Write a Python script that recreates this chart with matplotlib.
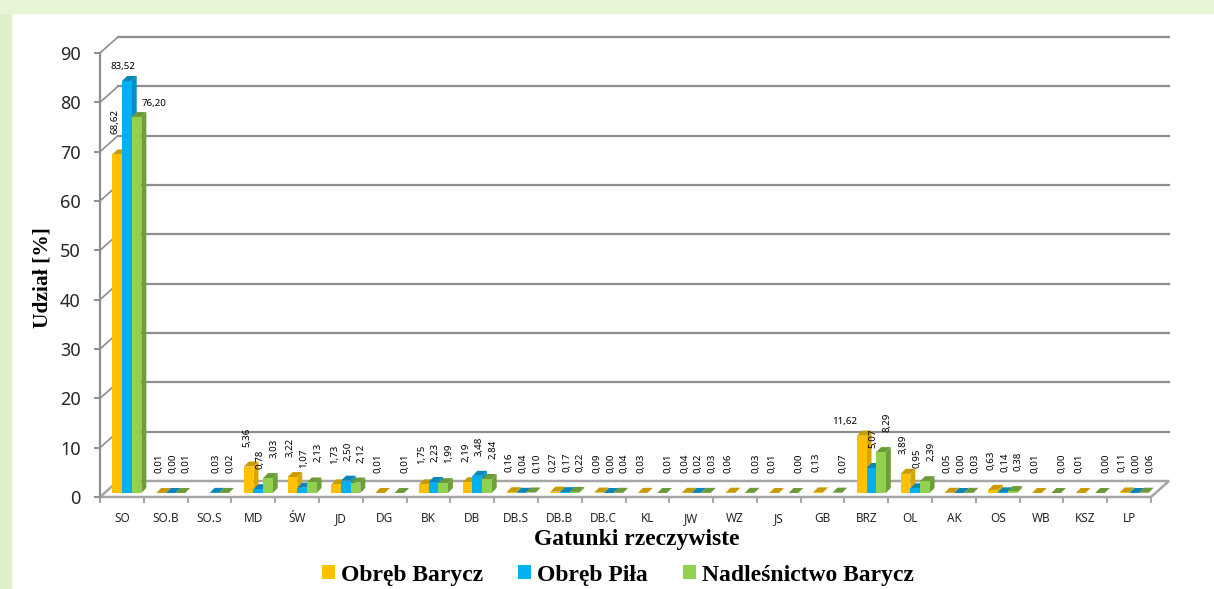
import numpy as np
import matplotlib.pyplot as plt
from matplotlib.patches import Polygon, Rectangle, Patch
from matplotlib.transforms import IdentityTransform

nan = np.nan

species = ["SO", "SO.B", "SO.S", "MD", "ŚW", "JD", "DG", "BK", "DB", "DB.S", "DB.B", "DB.C",
           "KL", "JW", "WZ", "JS", "GB", "BRZ", "OL", "AK", "OS", "WB", "KSZ", "LP"]

obreb_barycz = [68.62, 0.01, nan, 5.36, 3.22, 1.73, 0.01, 1.75, 2.19, 0.16, 0.27, 0.09,
                0.03, 0.04, 0.06, 0.01, 0.13, 11.62, 3.89, 0.05, 0.63, 0.01, 0.01, 0.11]
obreb_pila = [83.52, 0.00, 0.03, 0.78, 1.07, 2.50, nan, 2.23, 3.48, 0.04, 0.17, 0.00,
              nan, 0.02, nan, nan, nan, 5.07, 0.95, 0.00, 0.14, nan, nan, 0.00]
nadl_barycz = [76.20, 0.01, 0.02, 3.03, 2.13, 2.12, 0.01, 1.99, 2.84, 0.10, 0.22, 0.04,
               0.01, 0.03, 0.03, 0.00, 0.07, 8.29, 2.39, 0.03, 0.38, 0.00, 0.00, 0.06]

series = [obreb_barycz, obreb_pila, nadl_barycz]
labels = ["Obręb Barycz", "Obręb Piła", "Nadleśnictwo Barycz"]

# front, top, side colours
face_colors = [("#FFC000", "#C99A00", "#D9A600"),
               ("#00B0F0", "#0A86BA", "#0A8CC4"),
               ("#92D050", "#6B9A38", "#6E9E3C")]

W, H, DPI = 1214, 589, 100
fig = plt.figure(figsize=(W / DPI, H / DPI), dpi=DPI)
fig.patch.set_facecolor("white")

# light green frame (left and top)
fig.patches.append(Rectangle((0, 0), 11 / W, 1, transform=fig.transFigure,
                             color="#DDEFCB", zorder=0))
fig.patches.append(Rectangle((0, 1 - 13 / H), 1, 13 / H, transform=fig.transFigure,
                             color="#E6F4D8", zorder=0))

ax = fig.add_axes([100 / W, 92 / H, 1051 / W, 444 / H])
ax.set_xlim(-0.5, len(species) - 0.5)
ax.set_ylim(0, 90)
ax.patch.set_alpha(0)

wall_dx, wall_dy = 18, 16      # back wall offset (pixels)
bar_dx, bar_dy = 5, 4          # bar front plane offset
dep = 5                        # bar depth
bar_w = 0.22
grid_c = "#8E8E8E"

fig.canvas.draw()
T = ax.transData
I = IdentityTransform()


def px(x, y):
    return T.transform((x, y))


x0, x1 = -0.5, len(species) - 0.5

# floor
a, b = px(x0, 0), px(x1, 0)
floor = [a, b, b + (wall_dx, wall_dy), a + (wall_dx, wall_dy)]
ax.add_patch(Polygon(floor, closed=True, transform=I, facecolor="white",
                     edgecolor="#A6A6A6", lw=1.8, zorder=1, clip_on=False))

# back wall and side wall gridlines
for yv in range(10, 91, 10):
    p, q = px(x0, yv), px(x1, yv)
    ax.plot([p[0] + wall_dx, q[0] + wall_dx], [p[1] + wall_dy, q[1] + wall_dy],
            transform=I, color=grid_c, lw=1.6, zorder=1, clip_on=False)
    ax.plot([p[0], p[0] + wall_dx], [p[1], p[1] + wall_dy],
            transform=I, color=grid_c, lw=1.2, zorder=1, clip_on=False)

# 3d-ish bars
xs = np.arange(len(species))
special = {(0, 1): (1, 14), (0, 2): (22, 13), (17, 0): (-12, 14)}
for i in range(len(species)):
    for s in range(3):
        v = series[s][i]
        if np.isnan(v):
            continue
        xl = xs[i] - 1.5 * bar_w + s * bar_w
        bl = px(xl, 0) + (bar_dx, bar_dy)
        br = px(xl + bar_w, 0) + (bar_dx, bar_dy)
        tl = px(xl, v) + (bar_dx, bar_dy)
        tr = px(xl + bar_w, v) + (bar_dx, bar_dy)
        fc, tc, sc = face_colors[s]
        z = 3 + i * 0.01 + s * 0.001
        ax.add_patch(Polygon([br, tr, tr + (dep, dep), br + (dep, dep)], transform=I,
                             facecolor=sc, edgecolor="none", zorder=z, clip_on=False))
        ax.add_patch(Polygon([tl, tr, tr + (dep, dep), tl + (dep, dep)], transform=I,
                             facecolor=tc, edgecolor="none", zorder=z, clip_on=False))
        if tr[1] - br[1] > 0.5:
            ax.add_patch(Polygon([bl, br, tr, tl], transform=I,
                                 facecolor=fc, edgecolor="none", zorder=z, clip_on=False))

        # value label
        txt = f"{v:.2f}".replace(".", ",")
        cx = xl + bar_w / 2
        if (i, s) in special:
            ax.annotate(txt, (cx, v), xytext=special[(i, s)], textcoords="offset pixels",
                        ha="center", va="bottom", fontsize=7, zorder=10,
                        family="Noto Sans", annotation_clip=False)
        else:
            ax.annotate(txt, (cx, v), xytext=(3 + s * 4, 24),
                        textcoords="offset pixels", rotation=90,
                        ha="center", va="bottom", fontsize=7, zorder=10,
                        family="Noto Sans", annotation_clip=False)

# axes styling
for sp in ["top", "right", "bottom"]:
    ax.spines[sp].set_visible(False)
ax.spines["left"].set_color("#8E8E8E")
ax.spines["left"].set_linewidth(1.6)

ax.set_yticks(range(0, 91, 10))
ax.tick_params(axis="y", direction="out", length=4, width=1.4, color="#8E8E8E",
               pad=10, labelsize=13, labelcolor="#262626")
for t in ax.get_yticklabels():
    t.set_family("Noto Sans")

ax.set_xticks(xs)
ax.set_xticklabels(species, family="Noto Sans", fontsize=8.5, color="#262626")
ax.set_xticks(np.arange(-0.5, len(species)), minor=True)
ax.tick_params(axis="x", which="major", length=0, pad=11)
ax.tick_params(axis="x", which="minor", direction="out", length=4, width=1.4,
               color="#A6A6A6")

fig.text(42 / W, 1 - 278 / H, "Udział [%]", rotation=90, ha="center", va="center",
         fontsize=15.5, fontweight="bold", family="Liberation Serif")
fig.text(637 / W, 1 - 540 / H, "Gatunki rzeczywiste", ha="center", va="center",
         fontsize=17, fontweight="bold", family="Liberation Serif")

handles = [Patch(facecolor=c[0], edgecolor="none") for c in face_colors]
fig.legend(handles, labels, loc="center", bbox_to_anchor=(618 / W, 1 - 575 / H),
           ncol=3, frameon=False, handlelength=0.55, handleheight=0.55,
           handletextpad=0.25, columnspacing=1.5,
           prop={"family": "Liberation Serif", "weight": "bold", "size": 17})

fig.savefig("out.png", dpi=DPI)
